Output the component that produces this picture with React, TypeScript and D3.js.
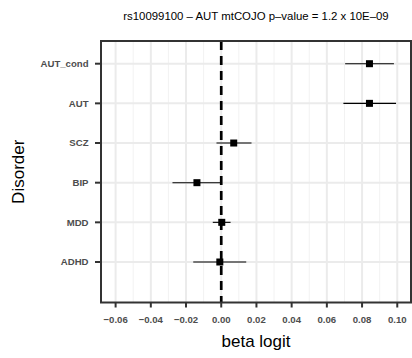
import React, { useEffect, useRef } from "react";
import * as d3 from "d3";

const disorders = ["AUT_cond", "AUT", "SCZ", "BIP", "MDD", "ADHD"];
const betas = [0.0842, 0.0842, 0.0071, -0.0138, 0.0003, -0.0008];
const lower = [0.0704, 0.0694, -0.0027, -0.0277, -0.0048, -0.0159];
const upper = [0.0981, 0.0993, 0.0172, 0.0, 0.0053, 0.0142];
const xTicks = [-0.06, -0.04, -0.02, 0, 0.02, 0.04, 0.06, 0.08, 0.1];
const xMinor = [-0.05, -0.03, -0.01, 0.01, 0.03, 0.05, 0.07, 0.09];
const xDomain = [-0.0683, 0.1078];

const App = () => {
  const ref = useRef<SVGSVGElement>(null);

  useEffect(() => {
    const width = 412;
    const height = 358;
    const panel = { left: 101, right: 411, top: 41, bottom: 302.5 };
    const font = "'Liberation Sans', Arial, Helvetica, sans-serif";

    const svg = d3.select(ref.current);
    svg.selectAll("*").remove();
    svg.attr("width", width).attr("height", height);

    const x = d3.scaleLinear().domain(xDomain).range([panel.left, panel.right]);
    const y = d3
      .scalePoint()
      .domain(disorders)
      .range([panel.top + 22.7, panel.bottom - 40.5]);

    const g = svg.append("g");

    // minor grid
    g.selectAll("line.minor")
      .data(xMinor)
      .enter()
      .append("line")
      .attr("x1", (d) => x(d))
      .attr("x2", (d) => x(d))
      .attr("y1", panel.top)
      .attr("y2", panel.bottom)
      .attr("stroke", "#F2F2F2")
      .attr("stroke-width", 1);

    // major grid
    g.selectAll("line.majorx")
      .data(xTicks)
      .enter()
      .append("line")
      .attr("x1", (d) => x(d))
      .attr("x2", (d) => x(d))
      .attr("y1", panel.top)
      .attr("y2", panel.bottom)
      .attr("stroke", "#EBEBEB")
      .attr("stroke-width", 2);

    g.selectAll("line.majory")
      .data(disorders)
      .enter()
      .append("line")
      .attr("x1", panel.left)
      .attr("x2", panel.right)
      .attr("y1", (d) => y(d)!)
      .attr("y2", (d) => y(d)!)
      .attr("stroke", "#EBEBEB")
      .attr("stroke-width", 2);

    // zero line
    g.append("line")
      .attr("x1", x(0))
      .attr("x2", x(0))
      .attr("y1", panel.top)
      .attr("y2", panel.bottom)
      .attr("stroke", "#000")
      .attr("stroke-width", 2.7)
      .attr("stroke-dasharray", "9,6");

    // error bars
    g.selectAll("line.ci")
      .data(disorders)
      .enter()
      .append("line")
      .attr("x1", (_, i) => x(lower[i]))
      .attr("x2", (_, i) => x(upper[i]))
      .attr("y1", (d) => y(d)!)
      .attr("y2", (d) => y(d)!)
      .attr("stroke", "#000")
      .attr("stroke-width", 1.1);

    // points
    const s = 7;
    g.selectAll("rect.pt")
      .data(disorders)
      .enter()
      .append("rect")
      .attr("x", (_, i) => x(betas[i]) - s / 2)
      .attr("y", (d) => y(d)! - s / 2)
      .attr("width", s)
      .attr("height", s)
      .attr("fill", "#000");

    // panel border
    g.append("rect")
      .attr("x", panel.left)
      .attr("y", panel.top)
      .attr("width", panel.right - panel.left)
      .attr("height", panel.bottom - panel.top)
      .attr("fill", "none")
      .attr("stroke", "#333")
      .attr("stroke-width", 2);

    // x axis
    const xAxis = g.append("g").attr("transform", `translate(0,${panel.bottom})`);
    xTicks.forEach((t) => {
      xAxis
        .append("line")
        .attr("x1", x(t))
        .attr("x2", x(t))
        .attr("y1", 0)
        .attr("y2", 5)
        .attr("stroke", "#333")
        .attr("stroke-width", 2);
      xAxis
        .append("text")
        .attr("x", x(t))
        .attr("y", 20)
        .attr("text-anchor", "middle")
        .attr("font-family", font)
        .attr("font-weight", "bold")
        .attr("font-size", 9.6)
        .attr("fill", "#4D4D4D")
        .text(d3.format(".2f")(t));
    });

    // y axis
    const yAxis = g.append("g").attr("transform", `translate(${panel.left},0)`);
    disorders.forEach((d) => {
      yAxis
        .append("line")
        .attr("x1", -6)
        .attr("x2", 0)
        .attr("y1", y(d)!)
        .attr("y2", y(d)!)
        .attr("stroke", "#333")
        .attr("stroke-width", 2);
      yAxis
        .append("text")
        .attr("x", -12.5)
        .attr("y", y(d)!)
        .attr("dy", "0.35em")
        .attr("text-anchor", "end")
        .attr("font-family", font)
        .attr("font-weight", "bold")
        .attr("font-size", 9.6)
        .attr("fill", "#4D4D4D")
        .text(d);
    });

    // titles
    svg
      .append("text")
      .attr("x", (panel.left + panel.right) / 2)
      .attr("y", 19.5)
      .attr("text-anchor", "middle")
      .attr("font-family", font)
      .attr("font-size", 11.4)
      .attr("fill", "#000")
      .text("rs10099100 – AUT mtCOJO p–value = 1.2 x 10E–09");

    svg
      .append("text")
      .attr("x", (panel.left + panel.right) / 2)
      .attr("y", 346.5)
      .attr("text-anchor", "middle")
      .attr("font-family", font)
      .attr("font-size", 17)
      .attr("fill", "#000")
      .text("beta logit");

    svg
      .append("text")
      .attr("transform", `translate(24,${(panel.top + panel.bottom) / 2}) rotate(-90)`)
      .attr("text-anchor", "middle")
      .attr("font-family", font)
      .attr("font-size", 17)
      .attr("fill", "#000")
      .text("Disorder");
  }, []);

  return (
    <div style={{ position: "absolute", left: 0, top: 0 }}>
      <svg ref={ref} style={{ display: "block", background: "#fff" }} />
    </div>
  );
};

export default App;
